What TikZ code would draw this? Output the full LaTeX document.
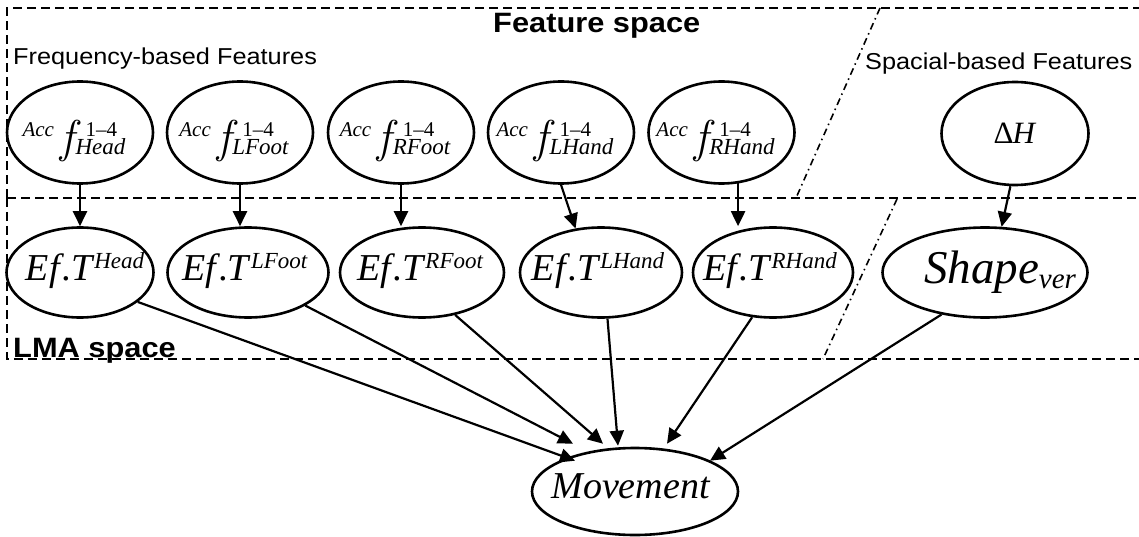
\documentclass[tikz,border=0pt]{standalone}
\usepackage{fontspec}
\usepackage{graphicx}
\setmainfont{Liberation Serif}
\newfontfamily\labelsans{Liberation Sans}
\newfontfamily\longf{Latin Modern Roman}
\usetikzlibrary{arrows.meta,shapes.geometric}

% accumulated frequency feature  Acc f^{1-4}_{part}
\newcommand\accf[1]{\makebox[0pt]{\hspace{-12pt}%
  \makebox[38pt][l]{\fontsize{21}{21}\selectfont\itshape Acc}%
  \rlap{\raisebox{-16pt}{\longf\fontsize{46}{46}\selectfont\itshape f}}%
  \hspace{15pt}%
  \rlap{\hspace{10pt}\fontsize{21}{21}\selectfont 1–4}%
  \raisebox{-18pt}{\fontsize{23}{23}\selectfont\itshape #1}}}
% effort term  Ef.T^{part}, optional horizontal offset
\newcommand\eft[2][0pt]{\makebox[0pt]{\hspace{#1}\fontsize{38}{38}\selectfont\itshape
  Ef\kern3pt.\kern-1pt T\kern2pt\raisebox{12pt}{\fontsize{23}{23}\selectfont #2}}}

\begin{document}
\begin{tikzpicture}[x=1pt,y=-1pt,
  blob/.style={draw, ellipse, line width=2.6pt, inner sep=0pt},
  feat/.style={blob, minimum width=146pt, minimum height=102pt,
    text height=20pt, text depth=11pt},
  effort/.style={blob, minimum height=90pt, text height=26pt, text depth=11pt},
  link/.style={line width=2.2pt, -{Triangle[length=15pt,width=14pt]}},
  region/.style={line width=2pt, dash pattern=on 9pt off 5pt},
  divider/.style={line width=1.6pt, dash pattern=on 7pt off 4pt on 1.5pt off 4pt},
  caption/.style={anchor=base west, inner sep=0pt,
    font=\labelsans\fontsize{23}{23}\selectfont},
  heading/.style={anchor=base west, inner sep=0pt,
    font=\labelsans\bfseries\fontsize{28}{28}\selectfont}]

\useasboundingbox (0,0) rectangle (1139,537);

% region frames
\draw[region] (7,198) -- (7,8) -- (1139,8);
\draw[region] (7,198) -- (1139,198);
\draw[region] (7,198) -- (7,359) -- (1139,359);
\draw[divider] (880,8) -- (796,198);
\draw[divider] (897,199) -- (823,359);

% region captions
\node[heading] (fspace) at (493,33) {\scalebox{1.1}[1]{Feature space}};
\node[caption] (freq) at (13,65) {\scalebox{1.1}[1]{Frequency-based Features}};
\node[caption] (spat) at (865,70) {\scalebox{1.1}[1]{Spacial-based Features}};
\node[heading] (lma) at (13,357) {\scalebox{1.1}[1]{LMA space}};

% feature nodes
\node[feat] (hA)  at (80,132.5)  {\accf{Head}};
\node[feat] (lfA) at (240,132.5) {\accf{LFoot}};
\node[feat] (rfA) at (401,132.5) {\accf{RFoot}};
\node[feat] (lhA) at (561,132.5) {\accf{LHand}};
\node[feat] (rhA) at (721.5,132.5) {\accf{RHand}};
\node[blob, minimum width=147pt, minimum height=103pt, text height=26pt, text depth=5pt]
  (dH) at (1015,133.5) {\makebox[0pt]{\fontsize{31}{31}\selectfont Δ\kern-1pt\textit{H}}};

% LMA nodes
\node[effort, minimum width=147pt] (hB)  at (80,272.5)  {\eft[10pt]{Head}};
\node[effort, minimum width=161pt] (lfB) at (248,272.5) {\eft[-6pt]{LFoot}};
\node[effort, minimum width=164pt] (rfB) at (422,272.5) {\eft[-4pt]{RFoot}};
\node[effort, minimum width=162pt] (lhB) at (601,272.5) {\eft[-6pt]{LHand}};
\node[effort, minimum width=160pt] (rhB) at (773,272.5) {\eft[-6pt]{RHand}};
\node[effort, minimum width=205pt, text height=32pt, text depth=11pt] (shB) at (985,272.5)
  {\makebox[0pt]{\hspace{30pt}\fontsize{47}{47}\selectfont\itshape Shape\raisebox{-5pt}{\fontsize{29}{29}\selectfont ver}}};

% output node
\node[blob, minimum width=206pt, minimum height=87pt, text height=25pt, text depth=12pt]
  (mv) at (635,491.5) {\makebox[0pt]{\hspace{-9pt}\fontsize{38}{38}\selectfont\itshape Movement}};

% feature -> LMA
\draw[link] (hA.south) -- (hB.north);
\draw[link] (lfA.south) -- (lfA.south |- lfB.north);
\draw[link] (rfA.south) -- (rfA.south |- rfB.north);
\draw[link] (lhA.south) -- (lhB.120);
\draw[link] (rhA.-72) -- (rhA.-72 |- rhB.north);
\draw[link] (dH.-95) -- (shB.70);

% LMA -> movement
\draw[link] (hB.-27)   -- ([xshift=-60pt,yshift=-14pt]mv.north);
\draw[link] (lfB.-30)  -- ([xshift=-62pt,yshift=3pt]mv.north);
\draw[link] (rfB.-52)  -- ([xshift=-32pt,yshift=3pt]mv.north);
\draw[link] (lhB.-82)  -- ([xshift=-17pt,yshift=1pt]mv.north);
\draw[link] (rhB.-115) -- ([xshift=32pt,yshift=3pt]mv.north);
\draw[link] (shB.-136) -- ([xshift=75pt,yshift=-14pt]mv.north);
\end{tikzpicture}
\end{document}
